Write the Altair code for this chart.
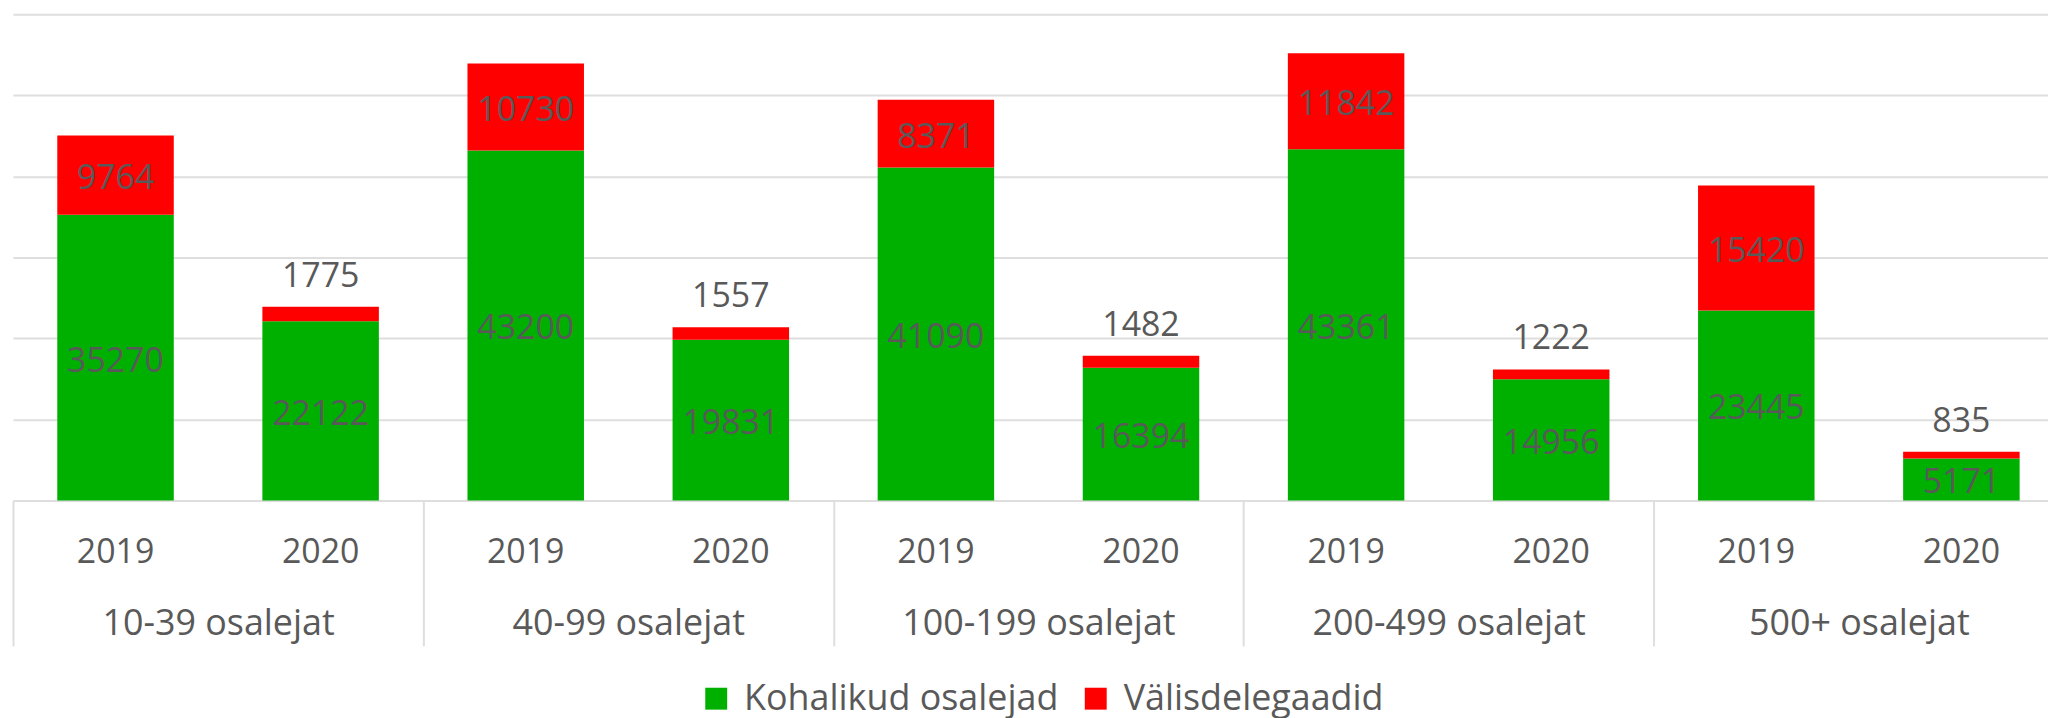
import altair as alt
import pandas as pd

groups = ["10-39 osalejat", "40-99 osalejat", "100-199 osalejat", "200-499 osalejat", "500+ osalejat"]
years = ["2019", "2020"]
local = [35270, 22122, 43200, 19831, 41090, 16394, 43361, 14956, 23445, 5171]
foreign = [9764, 1775, 10730, 1557, 8371, 1482, 11842, 1222, 15420, 835]
series = ["Kohalikud osalejad", "Välisdelegaadid"]
colors = ["#00B000", "#FF0000"]
grid_values = [0, 10000, 20000, 30000, 40000, 50000, 60000]

rows = []
i = 0
for g in groups:
    for y in years:
        bar = f"{g}|{y}"
        rows.append(dict(group=g, year=y, bar=bar, series=series[0], order=0, value=local[i]))
        rows.append(dict(group=g, year=y, bar=bar, series=series[1], order=1, value=foreign[i]))
        i += 1
df = pd.DataFrame(rows)
bars_order = [f"{g}|{y}" for g in groups for y in years]

FONT = "Open Sans"
TXT = "#595959"
GRID = "#dedede"
XRANGE = [0, 2059]

base = alt.Chart(df).transform_stack(
    stack="value", groupby=["bar"], as_=["v0", "v1"],
    sort=[alt.SortField("order", order="ascending")]
).transform_calculate(mid="(datum.v0 + datum.v1) / 2")

x_axis = alt.Axis(title=None, labelExpr="split(datum.label, '|')[1]", ticks=False, tickSize=0,
                  labelPadding=62, labelBaseline="alphabetic", labelFont=FONT, labelFontSize=34,
                  labelColor=TXT, domainColor=GRID, domainWidth=2, labelAngle=0, grid=False,
                  labelOverlap=False)
x_scale = alt.Scale(range=XRANGE, paddingInner=0.432, paddingOuter=0.216)
y_scale = alt.Scale(domain=[0, 60000], nice=False)
y_axis = alt.Axis(title=None, labels=False, ticks=False, domain=False, values=grid_values,
                  gridColor=GRID, gridWidth=2)

def X():
    return alt.X("bar:N", sort=bars_order, scale=x_scale, axis=x_axis)

bars = base.mark_bar().encode(
    x=X(),
    y=alt.Y("v0:Q", scale=y_scale, axis=y_axis),
    y2="v1:Q",
    color=alt.Color("series:N", scale=alt.Scale(domain=series, range=colors),
                    legend=alt.Legend(title=None, orient="none", legendX=688, legendY=669,
                                      direction="horizontal", symbolType="square", symbolSize=484,
                                      symbolStrokeWidth=0, symbolOpacity=1, labelFont=FONT,
                                      labelFontSize=36, labelColor=TXT, labelOffset=10,
                                      columnPadding=19, padding=0, labelLimit=0)),
)

t_in = base.transform_filter("datum.order == 0 || datum.year == '2019'").mark_text(
    font=FONT, fontSize=34, color=TXT, baseline="middle", dy=4
).encode(
    x=X(),
    y=alt.Y("mid:Q", scale=y_scale, axis=y_axis),
    text=alt.Text("value:Q", format="d"),
)

t_out = base.transform_filter("datum.order == 1 && datum.year == '2020'").mark_text(
    font=FONT, fontSize=34, color=TXT, baseline="middle", dy=-30
).encode(
    x=X(),
    y=alt.Y("v1:Q", scale=y_scale, axis=y_axis),
    text=alt.Text("value:Q", format="d"),
)

grp = alt.Chart(pd.DataFrame({"group": groups})).mark_bar(opacity=0).encode(
    x=alt.X("group:N", sort=groups,
            scale=alt.Scale(type="band", range=XRANGE, paddingInner=0, paddingOuter=0),
            axis=alt.Axis(title=None, orient="bottom", tickBand="extent", tickSize=146,
                          tickColor=GRID, tickWidth=2, domain=False, labelPadding=-11,
                          labelBaseline="alphabetic", labelFont=FONT, labelFontSize=36,
                          labelColor=TXT, labelAngle=0, grid=False, labelLimit=0,
                          labelOverlap=False)),
)

chart = alt.layer(alt.layer(bars, t_in, t_out), grp).resolve_scale(x="independent").properties(
    width=2043, height=488,
    padding={"left": 5, "top": 5, "right": 0, "bottom": 217},
    autosize=alt.AutoSizeParams(type="none"),
).configure_view(stroke=None)

chart.save("out.html", embed_options={"renderer": "svg", "actions": False})
